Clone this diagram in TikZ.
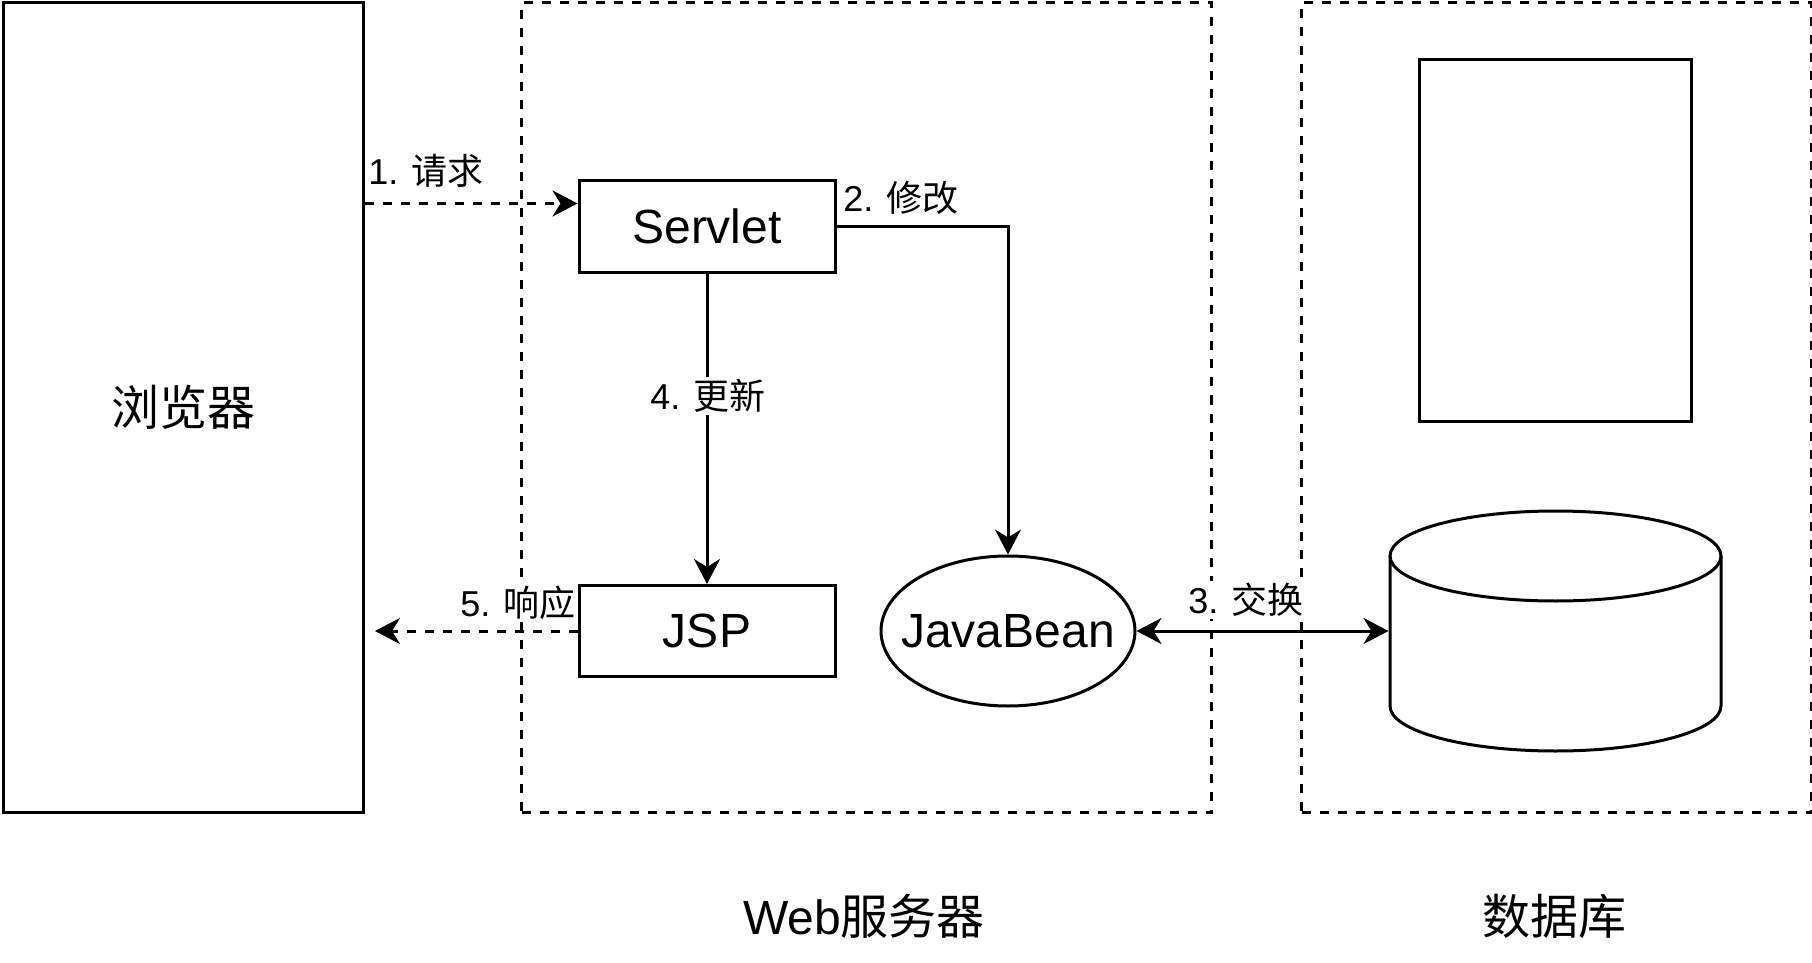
\documentclass[tikz,border=0pt]{standalone}
\usepackage{fontspec}
\setmainfont{Liberation Sans}
\newfontfamily\cjk{Noto Sans CJK SC}
\usetikzlibrary{arrows.meta,shapes.geometric,calc}
\begin{document}
\begin{tikzpicture}[x=0.5pt,y=-0.5pt,
  line width=1.5pt,
  box/.style={draw, line width=1.5pt, inner sep=0pt, font=\fontsize{24pt}{28pt}\selectfont},
  grp/.style={draw, line width=1.5pt, dash pattern=on 4.5pt off 4.5pt, inner sep=0pt, anchor=north west},
  lbl/.style={font=\fontsize{18pt}{22pt}\selectfont, inner sep=1pt, fill=white},
  big/.style={font=\fontsize{24pt}{28pt}\selectfont, inner sep=0pt},
  arr/.style={-{Stealth[length=12.5pt,width=13pt,inset=4pt]}, line width=1.5pt},
  darr/.style={arr, dash pattern=on 4.5pt off 4.5pt},
  barr/.style={{Stealth[length=12.5pt,width=13pt,inset=4pt]}-{Stealth[length=12.5pt,width=13pt,inset=4pt]}, line width=1.5pt}
]
\useasboundingbox (0,0) rectangle (1812,963);

% groups
\node[box, anchor=north west, minimum width=180.25pt, minimum height=404.75pt] (browser) at (1.5,1.5) {\cjk 浏览器};
\node[grp, minimum width=345pt, minimum height=404.75pt] (web) at (520,1.5) {};
\node[grp, minimum width=255pt, minimum height=404.75pt] (dbg) at (1300,1.5) {};

% nodes
\node[box, minimum width=128pt, minimum height=45.5pt] (servlet) at (707,226.5) {Servlet};
\node[box, minimum width=128pt, minimum height=45.5pt] (jsp) at (707,631) {JSP};
\node[box, ellipse, minimum width=127pt, minimum height=75pt] (bean) at (1008,631) {\makebox[0pt]{JavaBean}};
\node[box, minimum width=136pt, minimum height=180.5pt] (page) at (1555,240.5) {};

% database cylinder
\node[inner sep=0pt, minimum width=165.5pt, minimum height=120pt] (db) at (1555.5,631) {};
\draw[line width=1.5pt] (1555.5,556) ellipse [x radius=82.75pt, y radius=22.5pt];
\draw[line width=1.5pt] (1390,556) -- (1390,706)
  arc[start angle=180, end angle=360, x radius=82.75pt, y radius=22.5pt] -- (1721,556);

% connectors
\draw[darr] ([yshift=11.5pt]browser.east |- servlet.west) -- ([yshift=11.5pt]servlet.west);
\node[lbl] (l1) at (426,171) {1. {\cjk 请求}};

\draw[arr] (servlet.east) -| (bean.north);
\node[lbl] (l2) at (901,198) {2. {\cjk 修改}};

\draw[arr] (servlet.south) -- (jsp.north);
\node[lbl] (l4) at (708,396) {4. {\cjk 更新}};

\draw[darr] (jsp.west) -- ([xshift=5pt]browser.east |- jsp.west);
\node[lbl] (l5) at (518,603) {5. {\cjk 响应}};

\draw[barr] (bean.east) -- (db.west);
\node[lbl] (l3) at (1246,600) {3. {\cjk 交换}};

% captions
\node[big] (cweb) at (864,916) {Web{\cjk 服务器}};
\node[big] (cdb) at (1554,916) {\cjk 数据库};
\end{tikzpicture}
\end{document}
